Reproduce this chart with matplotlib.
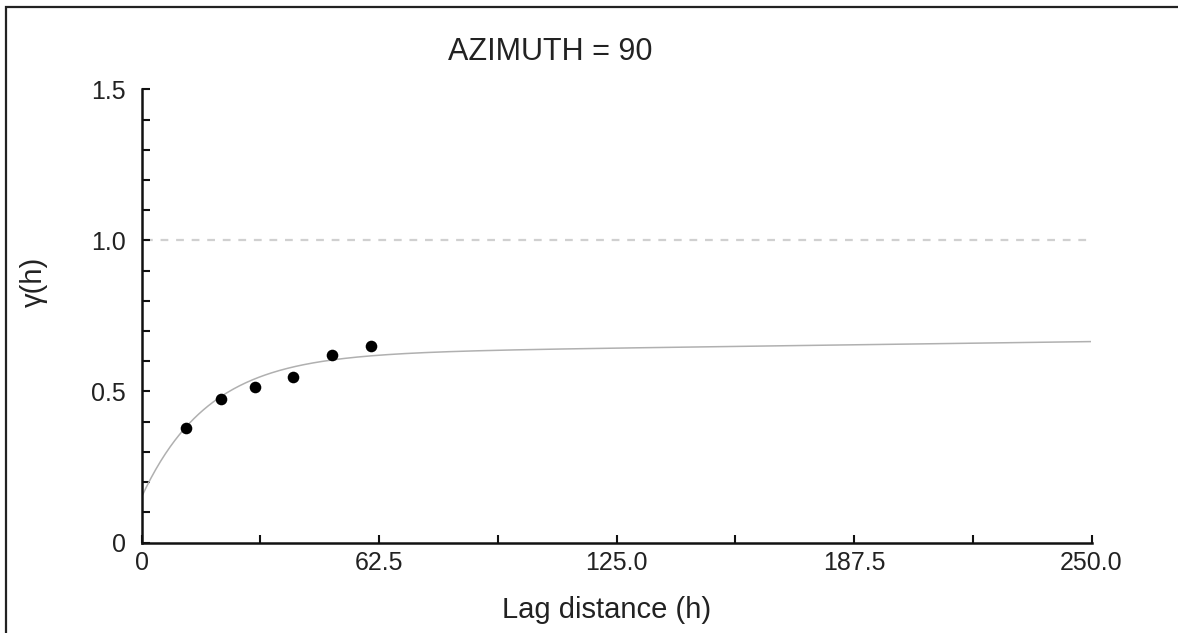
import numpy as np
import matplotlib
matplotlib.use("Agg")
import matplotlib.pyplot as plt
from matplotlib.patches import Rectangle
from matplotlib.ticker import FixedLocator, MultipleLocator

plt.rcParams["font.family"] = ["Liberation Sans", "DejaVu Sans"]

# Experimental semivariogram points
lag = [11.8, 20.8, 29.8, 39.9, 50.1, 60.3]
gamma = [0.379, 0.475, 0.514, 0.547, 0.620, 0.650]

# Fitted model: nugget + exponential + small linear drift
nugget = 0.15
partial_sill = 0.4725
range_param = 17.5
drift = 0.00017

sill_line = 1.0
x_ticks = [0, 62.5, 125.0, 187.5, 250.0]
x_tick_labels = ["0", "62.5", "125.0", "187.5", "250.0"]
y_ticks = [0, 0.5, 1.0, 1.5]
y_tick_labels = ["0", "0.5", "1.0", "1.5"]

fig = plt.figure(figsize=(11.78, 6.33), dpi=100)
ax = fig.add_axes([141.5 / 1178, 1 - 542.5 / 633, (1091.5 - 141.5) / 1178, (542.5 - 89.3) / 633])

h = np.linspace(0, 250, 600)
model = nugget + partial_sill * (1 - np.exp(-h / range_param)) + drift * h
ax.plot(h, model, color="#b0b0b0", lw=1.1, zorder=2)

ax.plot([1, 250], [sill_line, sill_line], color="#d0d0d0", lw=1.6,
        dashes=(3.5, 3.5), zorder=1)

ax.scatter(lag, gamma, s=70, color="black", zorder=3, linewidths=0)

ax.set_xlim(0, 250)
ax.set_ylim(0, 1.5)
ax.xaxis.set_major_locator(FixedLocator(x_ticks))
ax.set_xticklabels(x_tick_labels)
ax.xaxis.set_minor_locator(MultipleLocator(31.25))
ax.yaxis.set_major_locator(FixedLocator(y_ticks))
ax.set_yticklabels(y_tick_labels)
ax.yaxis.set_minor_locator(MultipleLocator(0.1))

for side in ("top", "right"):
    ax.spines[side].set_visible(False)
for side in ("left", "bottom"):
    ax.spines[side].set_linewidth(1.8)
    ax.spines[side].set_color("#111111")

ax.tick_params(which="both", direction="in", length=5.5, width=1.5, color="#111111")
ax.tick_params(axis="y", which="major", labelsize=18, pad=11, labelcolor="#222222")
ax.tick_params(axis="x", which="major", labelsize=18, pad=6, labelcolor="#222222")

ax.set_xlabel("Lag distance (h)", fontsize=21, color="#222222")
ax.xaxis.set_label_coords(0.49, -0.118)
ax.set_ylabel("γ(h)", fontsize=21, color="#222222")
ax.yaxis.set_label_coords(-0.098, 0.575)

fig.text(550 / 1178, 1 - 52 / 633, "AZIMUTH = 90", fontsize=22, ha="center",
         va="center", color="#222222")

# Outer frame (only the left and top edges fall inside the canvas)
fig.patches.append(Rectangle((5.5 / 1178, -0.2), 1.5, 1.2 - 7.0 / 633,
                             transform=fig.transFigure, fill=False,
                             edgecolor="#222222", lw=1.6))

fig.savefig("out.png", dpi=100)
